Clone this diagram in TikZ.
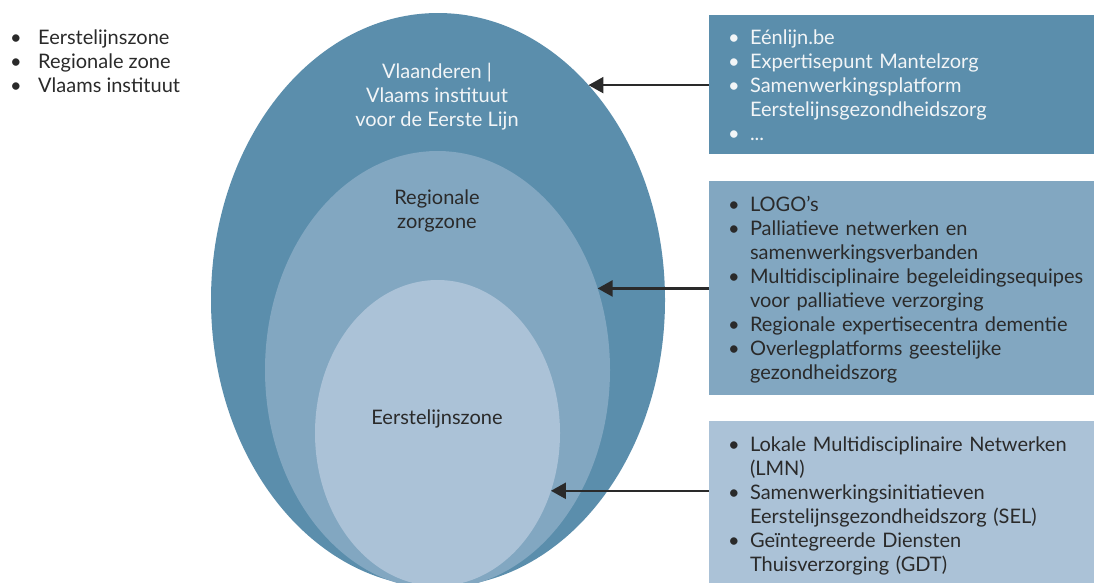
\documentclass[tikz,border=0pt]{standalone}
\usepackage{fontspec}
\setmainfont{Lato}
\usetikzlibrary{shapes.geometric,arrows.meta,positioning}
\definecolor{zoneouter}{HTML}{5B8EAC}
\definecolor{zonemid}{HTML}{82A7C1}
\definecolor{zoneinner}{HTML}{ABC2D7}
\definecolor{inkdark}{HTML}{2A2A2A}
\definecolor{inklight}{HTML}{F2F5F7}
\tikzset{
  zone/.style     = {ellipse, inner sep=0pt, outer sep=0pt},
  infobox/.style  = {rectangle, inner xsep=19pt, inner ysep=0pt, outer sep=0pt,
                     text width=347pt, align=left, anchor=north west},
  zonelabel/.style = {align=center, inner sep=0pt},
  pointer/.style  = {draw=inkdark, line width=2.4pt, -{Triangle[length=15pt,width=16pt]}},
}
\newcommand{\bul}{\makebox[22pt][l]{\textbullet}}
\newcommand{\legbul}{\makebox[28pt][l]{\textbullet}}
\newcommand{\boxlist}[1]{\raisebox{-3pt}[\height][\depth]{%
  \begin{tabular}{@{}l@{}l@{}}#1\end{tabular}}}

\begin{document}
\begin{tikzpicture}[x=1pt,y=-1pt,font=\fontsize{20pt}{24pt}\selectfont]
  \clip (0,0) rectangle (1094,582);

  % nested zones
  \node[zone, fill=zoneouter, minimum width=454pt, minimum height=574pt] (outer) at (438,300) {};
  \node[zone, fill=zonemid, minimum width=345pt, minimum height=438pt] (middle) at (437.5,370) {};
  \node[zone, fill=zoneinner, minimum width=245pt, minimum height=306pt] (inner) at (437.5,433) {};

  \node[zonelabel, text=inklight] (outerlbl) at (437,97) {Vlaanderen |\\Vlaams instituut\\voor de Eerste Lijn};
  \node[zonelabel, text=inkdark] (midlbl) at (437,211) {Regionale\\zorgzone};
  \node[zonelabel, text=inkdark] (innerlbl) at (437,419) {Eerstelijnszone};

  % legend
  \node[anchor=north west, inner sep=0pt, text=inkdark] (legend) at (10,27) {%
    \begin{tabular}{@{}l@{}l@{}}
      \legbul & Eerstelijnszone\\
      \legbul & Regionale zone\\
      \legbul & Vlaams instituut
    \end{tabular}};

  % boxes
  \node[infobox, fill=zoneouter, text=inklight, minimum height=139pt] (vlbox) at (709,15) {%
    \boxlist{
      \bul & Eénlijn.be\\
      \bul & Expertisepunt Mantelzorg\\
      \bul & Samenwerkingsplatform\\
           & Eerstelijnsgezondheidszorg\\
      \bul & ...}};
  \node[infobox, below=27pt of vlbox.south west, anchor=north west,
        fill=zonemid, text=inkdark, minimum height=214pt] (regbox) {%
    \boxlist{
      \bul & LOGO’s\\
      \bul & Palliatieve netwerken en\\
           & samenwerkingsverbanden\\
      \bul & Multidisciplinaire begeleidingsequipes\\
           & voor palliatieve verzorging\\
      \bul & Regionale expertisecentra dementie\\
      \bul & Overlegplatforms geestelijke\\
           & gezondheidszorg}};
  \node[infobox, below=26pt of regbox.south west, anchor=north west,
        fill=zoneinner, text=inkdark, minimum height=166pt] (elbox) {%
    \boxlist{
      \bul & Lokale Multidisciplinaire Netwerken\\
           & (LMN)\\
      \bul & Samenwerkingsinitiatieven\\
           & Eerstelijnsgezondheidszorg (SEL)\\
      \bul & Geïntegreerde Diensten\\
           & Thuisverzorging (GDT)}};

  % pointers
  \coordinate (tipA) at (outer.55);
  \coordinate (tipB) at (middle.27);
  \coordinate (tipC) at (inner.-27);
  \draw[pointer] (vlbox.west |- tipA) -- (tipA);
  \draw[pointer] (regbox.west |- tipB) -- (tipB);
  \draw[pointer] (elbox.west |- tipC) -- (tipC);
\end{tikzpicture}
\end{document}
